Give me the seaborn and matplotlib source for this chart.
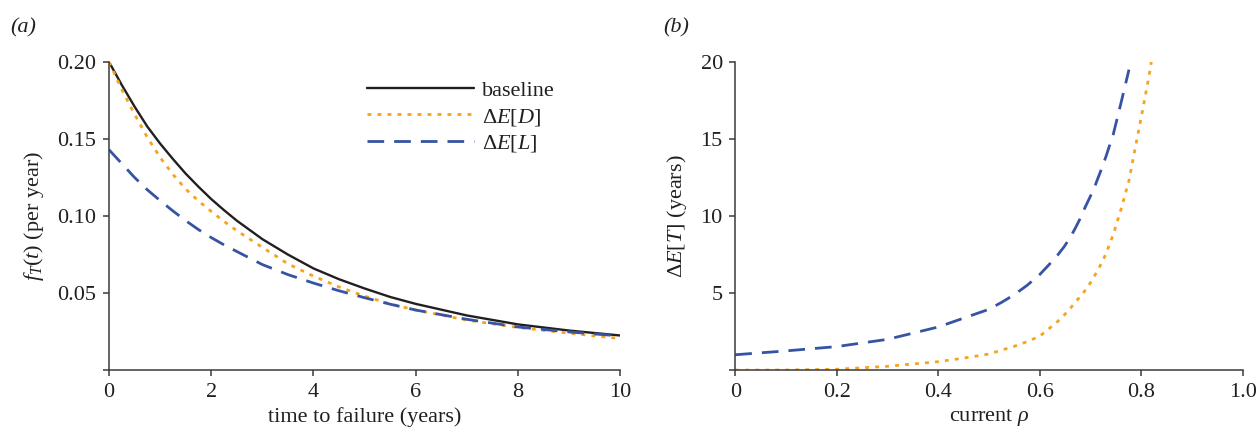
import numpy as np
import pandas as pd
import matplotlib
matplotlib.use("Agg")
import matplotlib.pyplot as plt
import seaborn as sns

# ---- data ----
t_years = [0, 0.25, 0.5, 0.75, 1, 1.25, 1.5, 1.75, 2, 2.25, 2.5, 3, 3.5, 4,
           4.5, 5, 5.5, 6, 7, 8, 9, 10]
f_baseline = [0.200, 0.185, 0.171, 0.158, 0.147, 0.137, 0.1275, 0.119, 0.111,
              0.1038, 0.097, 0.085, 0.075, 0.066, 0.059, 0.053, 0.0475,
              0.043, 0.0355, 0.0297, 0.0257, 0.0225]
f_dED = [0.200, 0.182, 0.166, 0.151, 0.138, 0.127, 0.1175, 0.1098, 0.103,
         0.0965, 0.0905, 0.0797, 0.069, 0.061, 0.054, 0.048, 0.043, 0.039,
         0.0325, 0.0277, 0.024, 0.0205]
f_dEL = [0.143, 0.134, 0.125, 0.117, 0.110, 0.1033, 0.097, 0.0912, 0.086,
         0.0813, 0.077, 0.0685, 0.062, 0.0565, 0.0515, 0.047, 0.0428, 0.039,
         0.033, 0.028, 0.0248, 0.0222]

rho_L = [0, 0.1, 0.2, 0.3, 0.4, 0.5, 0.525, 0.55, 0.575, 0.6, 0.62, 0.635,
         0.648, 0.66, 0.67, 0.68, 0.69, 0.706, 0.72, 0.73, 0.745, 0.76, 0.776]
dET_L = [1.0, 1.25, 1.53, 2.0, 2.8, 3.95, 4.4, 4.9, 5.5, 6.2, 6.9, 7.45,
         8.0, 8.6, 9.2, 9.85, 10.6, 11.7, 12.9, 13.8, 15.3, 17.3, 19.5]
rho_D = [0, 0.1, 0.2, 0.3, 0.4, 0.45, 0.5, 0.55, 0.575, 0.6, 0.615, 0.63,
         0.645, 0.66, 0.67, 0.683, 0.695, 0.706, 0.718, 0.73, 0.745, 0.76,
         0.776, 0.79, 0.803, 0.815, 0.82]
dET_D = [0, 0.01, 0.06, 0.25, 0.55, 0.78, 1.05, 1.55, 1.85, 2.2, 2.6, 3.0,
         3.45, 4.0, 4.4, 4.9, 5.4, 6.0, 6.7, 7.5, 8.8, 10.4, 12.3, 14.7,
         16.9, 19.0, 20.0]

labels = ["baseline", r"$\Delta E[D]$", r"$\Delta E[L]$"]
left_yticks = [0, 0.05, 0.10, 0.15, 0.20]
left_yticklabels = ["", "0.05", "0.10", "0.15", "0.20"]
left_xticks = [0, 2, 4, 6, 8, 10]
right_yticks = [0, 5, 10, 15, 20]
right_yticklabels = ["", "5", "10", "15", "20"]
right_xticks = [0, 0.2, 0.4, 0.6, 0.8, 1.0]
right_xticklabels = ["0", "0.2", "0.4", "0.6", "0.8", "1.0"]

# ---- style ----
sns.set_theme(style="ticks")
plt.rcParams["font.family"] = ["Liberation Serif", "DejaVu Serif"]
plt.rcParams["mathtext.fontset"] = "custom"
plt.rcParams["mathtext.rm"] = "Liberation Serif"
plt.rcParams["mathtext.it"] = "Liberation Serif:italic"
plt.rcParams["mathtext.bf"] = "Liberation Serif:bold"
FS = 16

BLACK = "#231f20"
ORANGE = "#f6a31e"
BLUE = "#3653a4"
LW = 2.0

fig = plt.figure(figsize=(12.59, 4.36), dpi=100)
ax1 = fig.add_axes([0.0866, 0.151, 0.406, 0.707])
ax2 = fig.add_axes([0.584, 0.151, 0.403, 0.707])

df_left = pd.DataFrame({"t": t_years, "base": f_baseline, "D": f_dED, "L": f_dEL})

sns.lineplot(data=df_left, x="t", y="base", ax=ax1, color=BLACK, lw=1.7,
             label=labels[0])
sns.lineplot(data=df_left, x="t", y="D", ax=ax1, color=ORANGE, lw=LW,
             label=labels[1])
sns.lineplot(data=df_left, x="t", y="L", ax=ax1, color=BLUE, lw=LW,
             label=labels[2])
lines = ax1.get_lines()
lines[1].set_dashes((1.4, 2.2))
lines[2].set_dashes((6.0, 3.6))

sns.lineplot(x=rho_L, y=dET_L, ax=ax2, color=BLUE, lw=LW)
sns.lineplot(x=rho_D, y=dET_D, ax=ax2, color=ORANGE, lw=LW)
l2 = ax2.get_lines()
l2[0].set_dashes((6.0, 3.6))
l2[1].set_dashes((1.4, 2.2))

# axes 1
ax1.set_xlim(0, 10)
ax1.set_ylim(0, 0.20)
ax1.set_xticks(left_xticks)
ax1.set_xticklabels([str(v) for v in left_xticks])
ax1.set_yticks(left_yticks)
ax1.set_yticklabels(left_yticklabels)
ax1.set_xlabel("time to failure (years)", fontsize=FS, labelpad=4)
ax1.set_ylabel(r"$f_T(t)$ (per year)", fontsize=FS, labelpad=8)

# axes 2
ax2.set_xlim(0, 1.0)
ax2.set_ylim(0, 20)
ax2.set_xticks(right_xticks)
ax2.set_xticklabels(right_xticklabels)
ax2.set_yticks(right_yticks)
ax2.set_yticklabels(right_yticklabels)
ax2.set_xlabel(r"current $\rho$", fontsize=FS, labelpad=4)
ax2.set_ylabel(r"$\Delta E[T]$ (years)", fontsize=FS, labelpad=8)

for ax in (ax1, ax2):
    for s in ("top", "right"):
        ax.spines[s].set_visible(False)
    for s in ("left", "bottom"):
        ax.spines[s].set_color("#3a3a3a")
        ax.spines[s].set_linewidth(1.1)
    ax.tick_params(direction="out", length=4, width=1.1, colors="#3a3a3a",
                   labelsize=FS, labelcolor="#231f20", pad=5)
    ax.xaxis.label.set_color("#231f20")
    ax.yaxis.label.set_color("#231f20")

leg = ax1.legend(loc="upper left", bbox_to_anchor=(0.505, 0.94), frameon=False,
                 fontsize=FS, handlelength=4.8, handletextpad=0.35,
                 labelspacing=0.25, borderpad=0, borderaxespad=0)
for txt in leg.get_texts():
    txt.set_color("#231f20")

fig.text(0.008, 0.925, "(a)", fontsize=FS, style="italic", color="#231f20")
fig.text(0.527, 0.925, "(b)", fontsize=FS, style="italic", color="#231f20")

fig.savefig("out.png", dpi=100)
